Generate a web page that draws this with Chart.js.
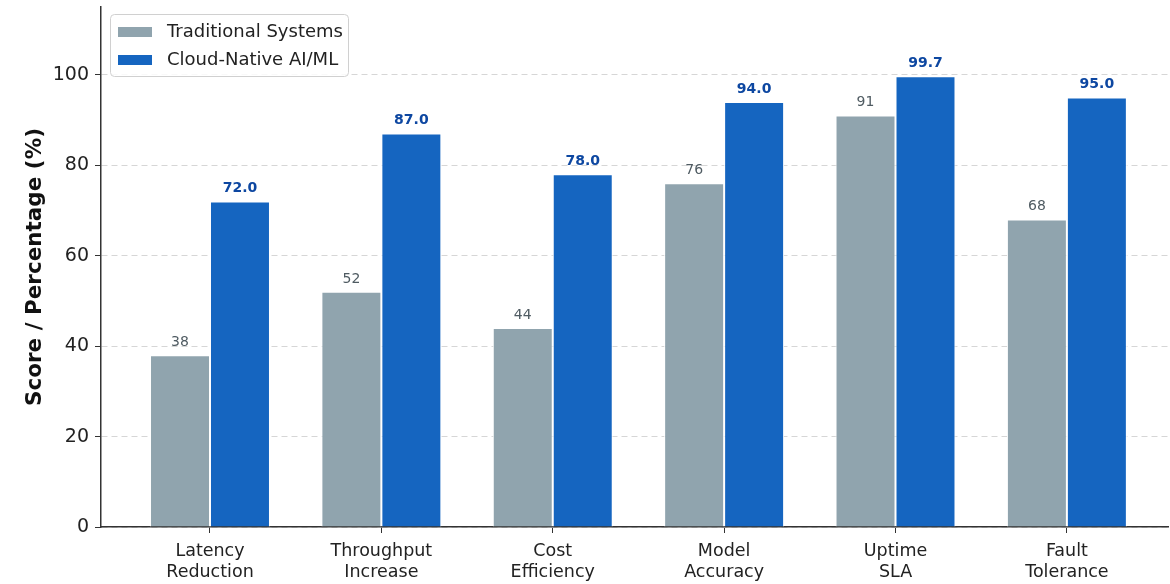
<!DOCTYPE html>
<html>
<head>
<meta charset="utf-8">
<script src="https://cdn.jsdelivr.net/npm/chart.js@4/dist/chart.umd.min.js"></script>
<style>
  html, body { margin: 0; padding: 0; background: #fff; }
  #wrap { width: 1170px; height: 584px; }
</style>
</head>
<body>
<div id="wrap"><canvas id="chart" width="1170" height="584"></canvas></div>
<script>
const categories = [
  ['Latency', 'Reduction'],
  ['Throughput', 'Increase'],
  ['Cost', 'Efficiency'],
  ['Model', 'Accuracy'],
  ['Uptime', 'SLA'],
  ['Fault', 'Tolerance'],
];
const traditional = [38, 52, 44, 76, 91, 68];
const cloudNative = [72, 87, 78, 94, 99.7, 95];
const yTicks = [0, 20, 40, 60, 80, 100];

const FONT = 'DejaVu Sans';
const GRAY = '#90A4AE';
const BLUE = '#1565C0';

const toPoints = (vals) => vals.map((y, x) => ({ x, y }));

const valueLabels = {
  id: 'valueLabels',
  afterDatasetsDraw(chart) {
    const { ctx } = chart;
    ctx.save();
    ctx.textAlign = 'center';
    ctx.textBaseline = 'bottom';
    chart.data.datasets.forEach((ds, di) => {
      const meta = chart.getDatasetMeta(di);
      meta.data.forEach((bar, i) => {
        const v = ds.data[i].y;
        if (di === 0) {
          ctx.font = `14px "${FONT}"`;
          ctx.fillStyle = '#4F5B62';
          ctx.fillText(String(v), bar.x, bar.y - 6);
        } else {
          ctx.font = `bold 14px "${FONT}"`;
          ctx.fillStyle = '#0D47A1';
          ctx.fillText(v.toFixed(1), bar.x, bar.y - 6);
        }
      });
    });
    ctx.restore();
  },
};

const boxLegend = {
  id: 'boxLegend',
  afterDraw(chart) {
    const { ctx } = chart;
    const x = 110, y = 14, w = 238, h = 62;
    ctx.save();
    ctx.beginPath();
    ctx.roundRect(x + 0.5, y + 0.5, w, h, 4);
    ctx.fillStyle = 'rgba(255,255,255,0.85)';
    ctx.fill();
    ctx.strokeStyle = '#d0d0d0';
    ctx.lineWidth = 1;
    ctx.stroke();
    ctx.font = `18px "${FONT}"`;
    ctx.textBaseline = 'middle';
    chart.data.datasets.forEach((ds, i) => {
      const cy = y + 18 + i * 28;
      ctx.fillStyle = ds.backgroundColor;
      ctx.fillRect(x + 8, cy - 5, 34, 10);
      ctx.fillStyle = '#222';
      ctx.fillText(ds.label, x + 57, cy);
    });
    ctx.restore();
  },
};

new Chart(document.getElementById('chart'), {
  type: 'bar',
  data: {
    datasets: [
      {
        label: 'Traditional Systems',
        data: toPoints(traditional),
        backgroundColor: GRAY,
        borderColor: '#ffffff',
        borderWidth: 1,
        categoryPercentage: 0.7,
        barPercentage: 1.0,
      },
      {
        label: 'Cloud-Native AI/ML',
        data: toPoints(cloudNative),
        backgroundColor: BLUE,
        borderColor: '#ffffff',
        borderWidth: 1,
        categoryPercentage: 0.7,
        barPercentage: 1.0,
      },
    ],
  },
  options: {
    animation: false,
    responsive: false,
    layout: { padding: { top: 7, right: 2, left: 0, bottom: 0 } },
    plugins: {
      legend: { display: false },
      tooltip: { enabled: false },
    },
    scales: {
      x: {
        type: 'linear',
        min: -0.636,
        max: 5.59,
        offset: false,
        afterFit(scale) {
          scale.height = 57;
          scale.paddingLeft = 0;
          scale.paddingRight = 0;
        },
        afterBuildTicks(scale) {
          scale.ticks = categories.map((_, i) => ({ value: i }));
        },
        ticks: {
          includeBounds: false,
          autoSkip: false,
          maxRotation: 0,
          padding: 8,
          color: '#222',
          font: { family: FONT, size: 17.5, lineHeight: 1.2 },
          callback: (v) => categories[v] || '',
        },
        grid: {
          offset: false,
          drawOnChartArea: false,
          drawTicks: true,
          tickLength: 6,
          tickColor: '#333',
        },
        border: { display: true, color: '#333', width: 1.5 },
      },
      y: {
        min: 0,
        max: 115,
        afterFit(scale) {
          scale.width = 101;
          scale.paddingTop = 0;
          scale.paddingBottom = 0;
        },
        afterBuildTicks(scale) {
          scale.ticks = yTicks.map((value) => ({ value }));
        },
        ticks: {
          includeBounds: false,
          padding: 6,
          color: '#222',
          font: { family: FONT, size: 19 },
        },
        grid: {
          color: '#d6d6d6',
          lineWidth: 1,
          drawTicks: true,
          tickLength: 6,
          tickColor: '#333',
          tickBorderDash: [],
        },
        border: { display: true, color: '#333', width: 1.5, dash: [6, 4] },
        title: {
          display: true,
          text: 'Score / Percentage (%)',
          color: '#111',
          padding: { top: 23, bottom: 0 },
          font: { family: FONT, size: 21.5, weight: 'bold' },
        },
      },
    },
  },
  plugins: [valueLabels, boxLegend],
});
</script>
</body>
</html>
